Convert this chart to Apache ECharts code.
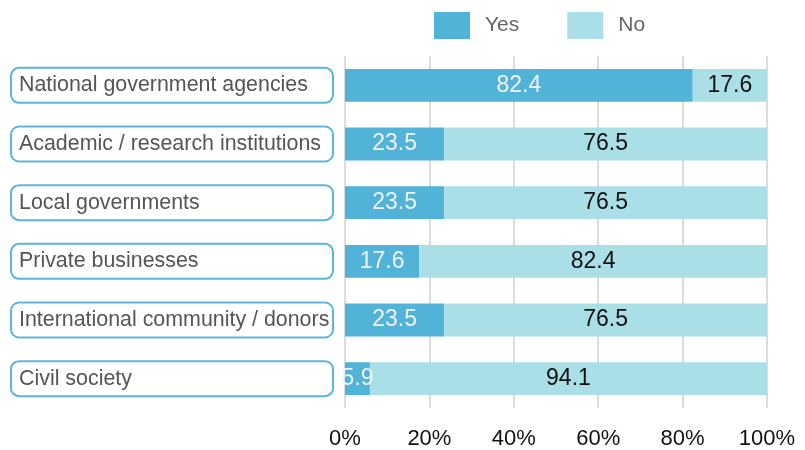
<!DOCTYPE html>
<html>
<head>
<meta charset="utf-8">
<script src="https://cdn.jsdelivr.net/npm/echarts@6/dist/echarts.min.js"></script>
<style>
  html, body { margin: 0; padding: 0; background: #fff; }
  #main { width: 805px; height: 450px; }
</style>
</head>
<body>
<div id="main"></div>
<script>
var categories = ['National government agencies', 'Academic / research institutions', 'Local governments',
                  'Private businesses', 'International community / donors', 'Civil society'];
var yesValues = [82.4, 23.5, 23.5, 17.6, 23.5, 5.9];
var noValues = [17.6, 76.5, 76.5, 82.4, 76.5, 94.1];
var xTicks = [0, 20, 40, 60, 80, 100];

var chart = echarts.init(document.getElementById('main'));

var option = {
    animation: false,
    textStyle: { fontFamily: 'Liberation Sans, Arial, sans-serif' },
    legend: {
        left: 429,
        top: 7,
        icon: 'rect',
        itemWidth: 36,
        itemHeight: 27,
        itemGap: 48,
        textStyle: { fontSize: 21, color: '#666', padding: [0, 0, 0, 10] },
        data: ['Yes', 'No']
    },
    grid: { left: 345, right: 38, top: 56, bottom: 42 },
    xAxis: {
        type: 'value',
        min: xTicks[0],
        max: xTicks[xTicks.length - 1],
        interval: 20,
        axisLine: { show: false },
        axisTick: { show: false },
        splitLine: { lineStyle: { color: '#dcdcdc', width: 2 } },
        axisLabel: { fontSize: 22, color: '#111', margin: 20, formatter: '{value}%' }
    },
    yAxis: {
        type: 'category',
        inverse: true,
        data: categories,
        axisLine: { show: false },
        axisTick: { show: false },
        axisLabel: {
            align: 'left',
            margin: 333,
            fontSize: 21.4,
            color: '#555',
            width: 306,
            overflow: 'none',
            lineHeight: 23,
            padding: [5, 7, 5, 7],
            borderColor: '#5ab4dc',
            borderWidth: 2,
            borderRadius: 7,
            backgroundColor: '#fff'
        }
    },
    series: [
        {
            name: 'Yes',
            type: 'bar',
            stack: 'total',
            barWidth: '56%',
            itemStyle: { color: '#52b3d9' },
            label: { show: true, position: 'inside', fontSize: 23, color: '#f2f2f2' },
            data: yesValues
        },
        {
            name: 'No',
            type: 'bar',
            stack: 'total',
            barWidth: '56%',
            itemStyle: { color: '#aadfe8' },
            label: { show: true, position: 'inside', fontSize: 23, color: '#111' },
            data: noValues
        }
    ]
};

chart.setOption(option);
</script>
</body>
</html>
